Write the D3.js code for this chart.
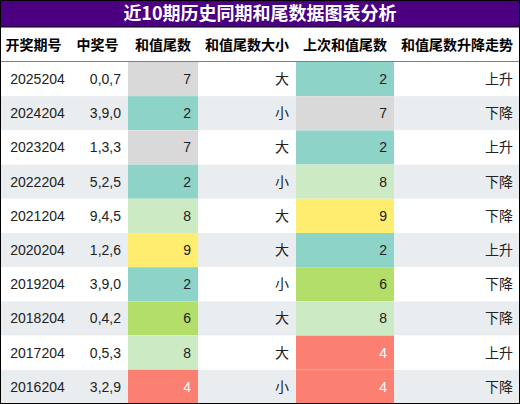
<!DOCTYPE html><html><head><meta charset="utf-8"><script src="https://cdn.jsdelivr.net/npm/d3@7"></script>
<style>body{margin:0;background:#fff}</style></head><body><svg id="c" width="520" height="404"></svg>
<script>
const title="近10期历史同期和尾数据图表分析";
const headers=["开奖期号","中奖号","和值尾数","和值尾数大小","上次和值尾数","和值尾数升降走势"];
const periods=["2025204","2024204","2023204","2022204","2021204","2020204","2019204","2018204","2017204","2016204"];
const numbers=["0,0,7","3,9,0","1,3,3","5,2,5","9,4,5","1,2,6","3,9,0","0,4,2","0,5,3","3,2,9"];
const tails=[7,2,7,2,8,9,2,6,8,4];
const sizes=["大","小","大","小","大","大","小","大","大","小"];
const prevTails=[2,7,2,8,9,2,6,8,4,4];
const trends=["上升","下降","上升","下降","下降","上升","下降","下降","上升","下降"];
const colorMap={7:"#d9d9d9",2:"#8dd3c7",8:"#ccebc5",9:"#ffed6f",6:"#b3de69",4:"#fb8072"};
const svg=d3.select("#c");
const colEdges=[0,67,128,198,296,394,520];
const x=i=>colEdges[i];
const y=d3.scaleBand().domain(d3.range(10)).range([62,404]);
svg.append("rect").attr("x",0).attr("y",0).attr("width",520).attr("height",27).attr("fill","#4b0082");
svg.append("text").attr("x",260).attr("y",20).attr("text-anchor","middle").attr("fill","#fff").attr("font-size",18).attr("font-weight","bold").attr("font-family","Noto Sans CJK SC").text(title);
svg.append("line").attr("x1",0).attr("x2",520).attr("y1",27).attr("y2",27).attr("stroke","#000");
headers.forEach((h,i)=>svg.append("text").attr("x",(x(i)+x(i+1))/2).attr("y",50).attr("text-anchor","middle").attr("font-size",14).attr("font-weight","bold").attr("font-family","Noto Sans CJK SC").text(h));
svg.append("line").attr("x1",0).attr("x2",520).attr("y1",62).attr("y2",62).attr("stroke","#000");
const rows=svg.selectAll("g.r").data(d3.range(10)).join("g").attr("transform",i=>`translate(0,${y(i)})`);
const h=y.bandwidth();
rows.append("rect").attr("width",520).attr("height",h).attr("fill",i=>i%2?"#e9edf0":"#fff");
rows.append("rect").attr("x",x(2)).attr("width",x(3)-x(2)).attr("height",h).attr("fill",i=>colorMap[tails[i]]);
rows.append("rect").attr("x",x(4)).attr("width",x(5)-x(4)).attr("height",h).attr("fill",i=>colorMap[prevTails[i]]);
const cols=[periods,numbers,tails,sizes,prevTails,trends];
cols.forEach((arr,c)=>{
 rows.append("text").attr("x",c==0?(x(0)+x(1))/2+4:x(c+1)-7).attr("y",h/2+5).attr("text-anchor",c==0?"middle":"end")
  .attr("font-size",14).attr("font-family","Liberation Sans, Noto Sans CJK SC")
  .attr("fill",i=>((c==2&&tails[i]==4)||(c==4&&prevTails[i]==4))?"#fff":"#222").text(i=>arr[i]);
});
svg.append("rect").attr("x",0.5).attr("y",0.5).attr("width",519).attr("height",403).attr("fill","none").attr("stroke","#000");
</script></body></html>
